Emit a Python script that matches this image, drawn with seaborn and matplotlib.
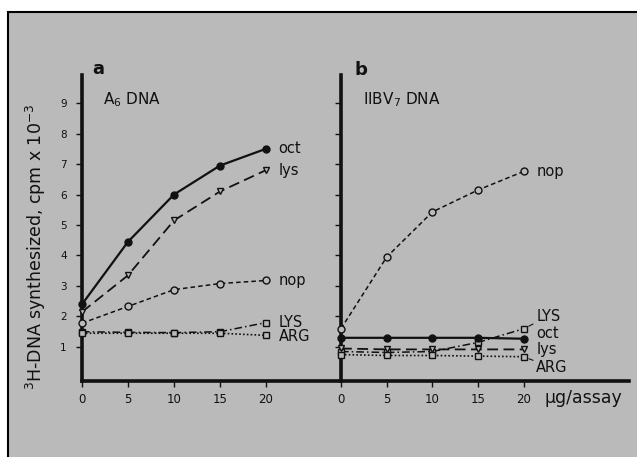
import matplotlib
matplotlib.use("Agg")
import matplotlib.pyplot as plt
import seaborn as sns
import pandas as pd
from matplotlib.patches import Rectangle

# ---- data ----
dose = [0, 5, 10, 15, 20]
a_oct = [2.4, 4.45, 6.0, 6.95, 7.5]
a_lys = [2.15, 3.35, 5.15, 6.1, 6.8]
a_nop = [1.78, 2.33, 2.88, 3.08, 3.18]
a_LYS = [1.5, 1.48, 1.47, 1.5, 1.8]
a_ARG = [1.45, 1.45, 1.45, 1.45, 1.38]

b_nop = [1.6, 3.95, 5.43, 6.15, 6.76]
b_LYS = [0.85, 0.82, 0.85, 1.15, 1.6]
b_oct = [1.3, 1.3, 1.3, 1.3, 1.27]
b_lys = [0.95, 0.92, 0.92, 0.92, 0.92]
b_ARG = [0.75, 0.72, 0.72, 0.70, 0.68]

y_ticks = [1, 2, 3, 4, 5, 6, 7, 8, 9]
x_ticks = [0, 5, 10, 15, 20]

BG = "#bababa"
INK = "#111111"

sns.set_theme(style="white")
plt.rcParams["font.family"] = ["DejaVu Sans"]

fig = plt.figure(figsize=(6.37, 4.57), dpi=100, facecolor="white")
fig.patches.append(Rectangle((8 / 637, -0.1), 1.2, (457 - 12) / 457 + 0.1,
                             transform=fig.transFigure, facecolor=BG,
                             edgecolor="black", lw=1.5, zorder=-5))

ax1 = fig.add_axes([82 / 637, 76.5 / 457, 259 / 637, 305.5 / 457])
ax2 = fig.add_axes([341 / 637, 76.5 / 457, 288 / 637, 305.5 / 457])

styles = {
    "oct": dict(linestyle="-", marker="o", markerfacecolor=INK, lw=1.6),
    "lys": dict(linestyle=(0, (6, 3)), marker="v", markerfacecolor=BG, lw=1.3),
    "nop": dict(linestyle=(0, (3, 2)), marker="o", markerfacecolor=BG, lw=1.1),
    "LYS": dict(linestyle=(0, (5, 2, 1, 2)), marker="s", markerfacecolor=BG, lw=1.1),
    "ARG": dict(linestyle=(0, (1, 1.3)), marker="s", markerfacecolor=BG, lw=1.2),
}

panel_a = {"oct": a_oct, "lys": a_lys, "nop": a_nop, "LYS": a_LYS, "ARG": a_ARG}
panel_b = {"nop": b_nop, "LYS": b_LYS, "oct": b_oct, "lys": b_lys, "ARG": b_ARG}

for ax, panel in ((ax1, panel_a), (ax2, panel_b)):
    for name, vals in panel.items():
        df = pd.DataFrame({"dose": dose, "cpm": vals})
        st = styles[name]
        sns.lineplot(data=df, x="dose", y="cpm", ax=ax, color=INK,
                     linestyle=st["linestyle"], lw=st["lw"], marker=st["marker"],
                     markersize=5, markerfacecolor=st["markerfacecolor"],
                     markeredgecolor=INK, markeredgewidth=1.0, clip_on=False,
                     zorder=3)

ax1.set_xlim(0, 28.15)
ax2.set_xlim(0, 31.5)
for ax in (ax1, ax2):
    ax.set_ylim(-0.1, 9.92)
    ax.set_facecolor("none")
    for s in ("top", "right"):
        ax.spines[s].set_visible(False)
    for s in ("left", "bottom"):
        ax.spines[s].set_color(INK)
        ax.spines[s].set_linewidth(2.6)
    ax.set_xticks(x_ticks)
    ax.set_xticklabels([str(v) for v in x_ticks])
    ax.set_yticks(y_ticks)
    ax.tick_params(axis="both", direction="out", length=4, width=1.0,
                   color=INK, labelcolor=INK, bottom=True, left=True)
    ax.tick_params(axis="x", labelsize=8.5, pad=5)
    ax.set_xlabel("")
    ax.set_ylabel("")

ax1.set_yticklabels([str(v) for v in y_ticks])
ax1.tick_params(axis="y", labelsize=7.5, pad=7)
ax2.set_yticklabels([])

# series labels
def lab(ax, text, x, y, dx, dy, line=False):
    ax.annotate(text, xy=(x, y), xytext=(dx, dy), textcoords="offset points",
                ha="left", va="center", fontsize=10.5, color=INK,
                arrowprops=(dict(arrowstyle="-", lw=0.8, color=INK,
                                 shrinkA=0, shrinkB=4) if line else None),
                annotation_clip=False)

lab(ax1, "oct", 20, a_oct[-1], 9, 0)
lab(ax1, "lys", 20, a_lys[-1], 9, 0)
lab(ax1, "nop", 20, a_nop[-1], 9, 0)
lab(ax1, "LYS", 20, a_LYS[-1], 9, 0)
lab(ax1, "ARG", 20, a_ARG[-1], 9, -1)

lab(ax2, "nop", 20, b_nop[-1], 9, 0)
lab(ax2, "LYS", 20, b_LYS[-1], 9, 9, line=True)
lab(ax2, "oct", 20, b_oct[-1], 9, 4)
lab(ax2, "lys", 20, b_lys[-1], 9, 0)
lab(ax2, "ARG", 20, b_ARG[-1], 9, -8, line=True)

# panel labels and titles
fig.text(92 / 637, 1 - 69 / 457, "a", fontsize=13, fontweight="bold",
         color=INK, ha="left", va="center")
fig.text(355 / 637, 1 - 70 / 457, "b", fontsize=13, fontweight="bold",
         color=INK, ha="left", va="center")
fig.text(103 / 637, 1 - 100 / 457, "A$_6$ DNA", fontsize=11, color=INK,
         ha="left", va="center")
fig.text(363 / 637, 1 - 100 / 457, "IIBV$_7$ DNA", fontsize=11, color=INK,
         ha="left", va="center")

fig.text(36 / 637, 1 - 247 / 457, "$^3$H-DNA synthesized, cpm x 10$^{-3}$",
         rotation=90, fontsize=12.5, color=INK, ha="center", va="center")
fig.text(544 / 637, 1 - 398 / 457, "\u00b5g/assay", fontsize=12.5,
         color=INK, ha="left", va="center")

fig.savefig("out.png", dpi=100, facecolor="white")
